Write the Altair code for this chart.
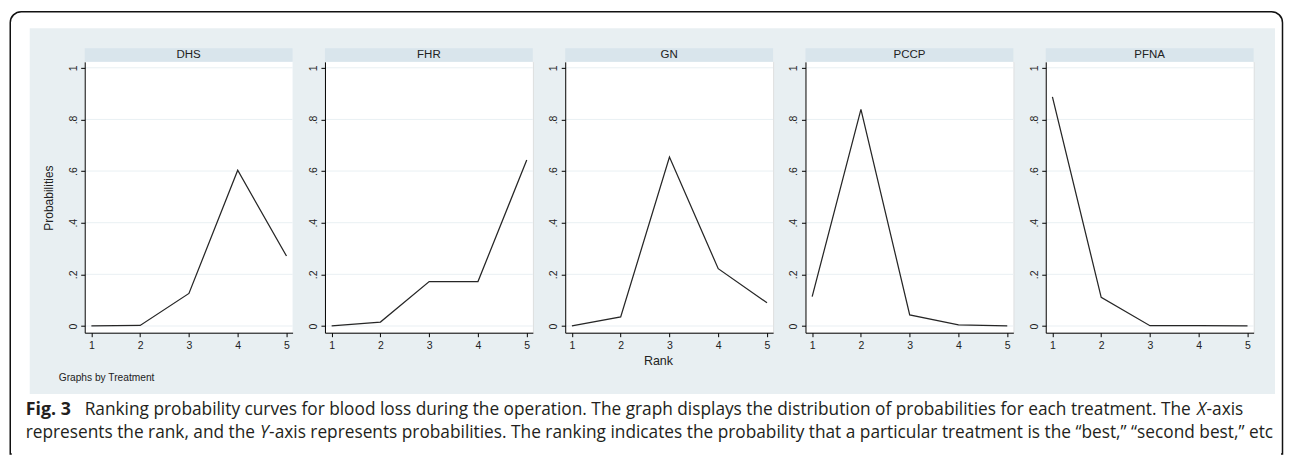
import altair as alt
import pandas as pd

# ---- data ----
treatments = ["DHS", "FHR", "GN", "PCCP", "PFNA"]
ranks = [1, 2, 3, 4, 5]
prob_dhs = [0.0, 0.002, 0.126, 0.603, 0.271]
prob_fhr = [0.0, 0.015, 0.172, 0.172, 0.643]
prob_gn = [0.0, 0.035, 0.654, 0.222, 0.090]
prob_pccp = [0.114, 0.839, 0.043, 0.004, 0.0]
prob_pfna = [0.887, 0.111, 0.001, 0.001, 0.0]
y_ticks = [0, 0.2, 0.4, 0.6, 0.8, 1]
x_ticks = [1, 2, 3, 4, 5]

y_title = "Probabilities"
x_title = "Rank"
note = "Graphs by Treatment"
cap1_bold = "Fig. 3"
cap1_a = ("Ranking probability curves for blood loss during the operation. The graph displays "
          "the distribution of probabilities for each treatment. The ")
cap1_b = "X"
cap1_c = "-axis"
cap2_a = "represents the rank, and the "
cap2_b = "Y"
cap2_c = ("-axis represents probabilities. The ranking indicates the probability that a particular "
          "treatment is the \u201cbest,\u201d \u201csecond best,\u201d etc")

series = [prob_dhs, prob_fhr, prob_gn, prob_pccp, prob_pfna]

W, H = 208, 271
FONT = "Liberation Sans, Arial, sans-serif"
CAPFONT = "Open Sans, sans-serif"
CAPSIZE = 17.3
CAPCOL = "#231f20"
GRAY = "#e8eff2"
HEAD = "#d9e5ec"
GRID = "#e9f0f3"

xs = alt.Scale(domain=[0.863, 5.125], nice=False, zero=False)
ys = alt.Scale(domain=[-0.026, 1.023], nice=False, zero=False)

xaxis = alt.Axis(values=x_ticks, format="d", title=None, grid=False, domainColor="black",
                 domainWidth=1, tickColor="black", tickSize=4, labelFontSize=10.5,
                 labelPadding=3.5, labelFont=FONT, labelColor="#222", labelFlush=False, zindex=1)
yaxis = alt.Axis(values=y_ticks, title=None, grid=False, domainColor="black", domainWidth=1,
                 tickColor="black", tickSize=4, labelFontSize=10.5, labelAngle=270,
                 labelAlign="center", labelBaseline="alphabetic", labelPadding=4.5,
                 labelFont=FONT, labelColor="#222", labelFlush=False, labelOverlap=False,
                 labelExpr="datum.value == 0 ? '0' : datum.value >= 1 ? '1' : '.' + round(datum.value * 10)",
                 zindex=1)


def one(df_dict):
    return pd.DataFrame(df_dict)


def text_layer(txt, x, y, size, font=FONT, weight="normal", style="normal", align="left",
               baseline="middle", angle=0, color="#222"):
    kw = dict(align=align, baseline=baseline, fontSize=size, font=font, fontWeight=weight,
              fontStyle=style, color=color)
    if angle:
        kw["angle"] = angle
    return alt.Chart(one({"t": [txt]})).mark_text(**kw).encode(
        text="t:N", x=alt.value(x), y=alt.value(y))


# caption baselines / positions (offsets from the first panel's plot origin at page 84, 60.7)
L1, L2 = 353.5, 376.8
OX = 84

panels = []
for i, (name, probs) in enumerate(zip(treatments, series)):
    layers = []
    if i == 0:
        layers.append(alt.Chart(one({"a": [0]})).mark_rect(
            filled=False, color="#111", strokeWidth=1.5, cornerRadiusTopLeft=11,
            cornerRadiusTopRight=11).encode(
            x=alt.value(-74.5), x2=alt.value(1198.5), y=alt.value(-50.2), y2=alt.value(392.3)))
        layers.append(alt.Chart(one({"a": [0]})).mark_rule(color="white", strokeWidth=3).encode(
            x=alt.value(-73), x2=alt.value(1197), y=alt.value(392.3)))
        layers.append(alt.Chart(one({"a": [0]})).mark_rect(color=GRAY).encode(
            x=alt.value(-55), x2=alt.value(1191), y=alt.value(-33.7), y2=alt.value(332.3)))
        layers.append(text_layer(y_title, -36, 136.3, 12, align="center", angle=270))
        layers.append(text_layer(note, -26, 316.3, 10.2))
        layers.append(text_layer(cap1_bold, 25 - OX, L1, CAPSIZE + 0.5, font=CAPFONT,
                                 weight="bold", baseline="alphabetic", color=CAPCOL))
        layers.append(text_layer(cap1_a, 84 - OX, L1, CAPSIZE, font=CAPFONT,
                                 baseline="alphabetic", color=CAPCOL))
        layers.append(text_layer(cap1_b, 1197 - OX, L1, CAPSIZE, font=CAPFONT, style="italic",
                                 baseline="alphabetic", color=CAPCOL))
        layers.append(text_layer(cap1_c, 1206.5 - OX, L1, CAPSIZE, font=CAPFONT,
                                 baseline="alphabetic", color=CAPCOL))
        layers.append(text_layer(cap2_a, 25 - OX, L2, CAPSIZE, font=CAPFONT,
                                 baseline="alphabetic", color=CAPCOL))
        layers.append(text_layer(cap2_b, 259.5 - OX, L2, CAPSIZE, font=CAPFONT, style="italic",
                                 baseline="alphabetic", color=CAPCOL))
        layers.append(text_layer(cap2_c, 268.5 - OX, L2, CAPSIZE, font=CAPFONT,
                                 baseline="alphabetic", color=CAPCOL))
    layers.append(alt.Chart(one({"a": [0]})).mark_rect(color="white").encode(
        x=alt.value(0), x2=alt.value(W), y=alt.value(0), y2=alt.value(H)))
    layers.append(alt.Chart(one({"g": y_ticks})).mark_rule(color=GRID, strokeWidth=1).encode(
        y=alt.Y("g:Q", scale=ys, axis=yaxis), x=alt.value(0), x2=alt.value(W)))
    layers.append(alt.Chart(one({"a": [0]})).mark_rect(color=HEAD).encode(
        x=alt.value(0), x2=alt.value(W), y=alt.value(-13.5), y2=alt.value(0)))
    layers.append(text_layer(name, W / 2, -6.4, 11.5, align="center"))
    if i == 2:
        layers.append(text_layer(x_title, 93.3, 299.3, 12.5, align="center"))
    df = pd.DataFrame({"Rank": ranks, "Probability": probs})
    layers.append(alt.Chart(df).mark_line(color="#262626", strokeWidth=1.25).encode(
        x=alt.X("Rank:Q", scale=xs, axis=xaxis),
        y=alt.Y("Probability:Q", scale=ys, axis=yaxis)))
    panels.append(alt.layer(*layers).properties(width=W, height=H))

chart = alt.hconcat(*panels, spacing=32.4, bounds="flush").properties(
    padding={"left": 0.75, "top": 1.75, "right": 0, "bottom": 0}
).configure_view(stroke="transparent").configure(background="white")

chart.save("out.html", embed_options={"renderer": "svg", "actions": False})
